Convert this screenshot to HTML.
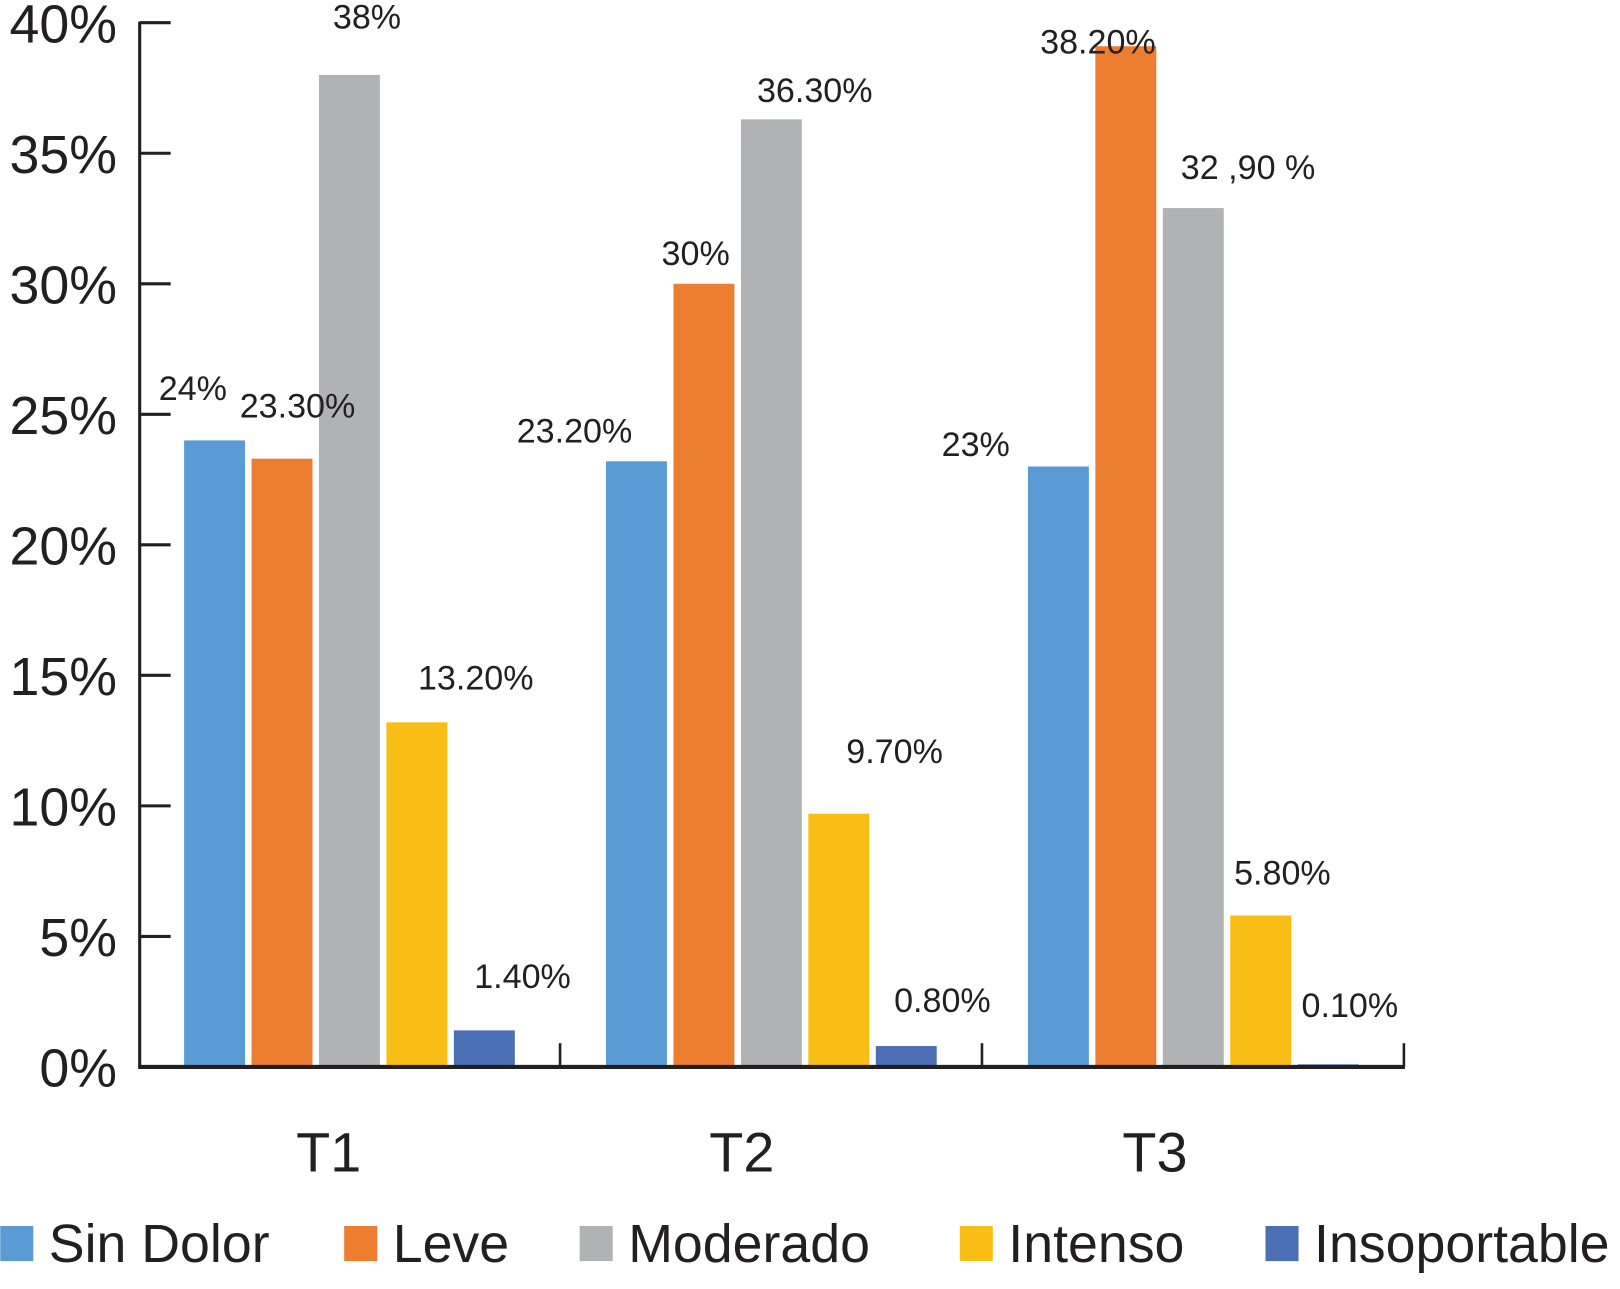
<!DOCTYPE html>
<html><head><meta charset="utf-8"><style>
html,body{margin:0;padding:0;background:#fff;}
svg{display:block;font-family:"Liberation Sans",sans-serif;}
</style></head><body>
<svg id="chart" width="1620" height="1289" viewBox="0 0 1568 1248" xmlns="http://www.w3.org/2000/svg"></svg>
<script>
const groups = ["T1","T2","T3"];
const seriesNames = ["Sin Dolor","Leve","Moderado","Intenso","Insoportable"];
const sinDolor = [24, 23.2, 23];
const leve = [23.3, 30, 39.1];
const moderado = [38, 36.3, 32.9];
const intenso = [13.2, 9.7, 5.8];
const insoportable = [1.4, 0.8, 0.1];
const valueLabels = [
  ["24%","23.20%","23%"],
  ["23.30%","30%","38.20%"],
  ["38%","36.30%","32 ,90 %"],
  ["13.20%","9.70%","5.80%"],
  ["1.40%","0.80%","0.10%"]
];
const yTicks = [0,5,10,15,20,25,30,35,40];
const yTickLabels = ["0%","5%","10%","15%","20%","25%","30%","35%","40%"];

const colors = ["#5b9bd5","#ed7d31","#b1b2b4","#f9be16","#4a6fb5"];
const labelDx = [[-21,-60,-80],[15,-8,-27],[17,42,53],[57,54,21],[37,35,21]];
const labelDy = [[-50,-29,-21],[-51,-29,-4],[-56,-28,-39],[-43,-60,-41],[-52,-44,-57]];
const series = [sinDolor, leve, moderado, intenso, insoportable];

const NS = "http://www.w3.org/2000/svg";
const svg = document.getElementById("chart");
function el(tag, attrs, parent){ const e=document.createElementNS(NS,tag); for(const k in attrs) e.setAttribute(k,attrs[k]); (parent||svg).appendChild(e); return e; }

const axisX = 135, y0 = 1033, y40 = 22;
function yScale(v){ return y0 - (v/40)*(y0-y40); }
const groupStart = 178, groupStep = 408.5, barStep = 65.3, barW = 59;
function xBar(g,s){ return groupStart + g*groupStep + s*barStep; }

// bars
series.forEach((vals,s)=>{
  vals.forEach((v,g)=>{
    const r = el("rect",{x:xBar(g,s),y:yScale(v),width:barW,height:y0-yScale(v),fill:colors[s]});
    
    
  });
});
// value labels (on top of bars)
series.forEach((vals,s)=>{
  vals.forEach((v,g)=>{
    const t = el("text",{x:xBar(g,s)+barW/2+labelDx[s][g],y:yScale(v)+labelDy[s][g]+11,"font-size":33,"text-anchor":"middle",fill:"#231f20"});
    t.textContent = valueLabels[s][g];
    
    
  });
});

// axes
const ax = el("line",{x1:axisX,y1:y40-1,x2:axisX,y2:y0+2,stroke:"#231f20","stroke-width":3});


const bx = el("line",{x1:axisX,y1:y0,x2:1360,y2:y0,stroke:"#231f20","stroke-width":4});


yTicks.forEach((v,i)=>{
  const tk = el("line",{x1:axisX,y1:yScale(v),x2:165,y2:yScale(v),stroke:"#231f20","stroke-width":3});
  
  
  const tl = el("text",{x:113,y:yScale(v)+19,"font-size":52,"text-anchor":"end",fill:"#231f20"});
  tl.textContent = yTickLabels[i];
  
  
});
groups.forEach((g,i)=>{
  const xs = groupStart - 44.5 + (i+1)*groupStep;
  const tk = el("line",{x1:xs,y1:1010,x2:xs,y2:y0,stroke:"#231f20","stroke-width":2.5});
  
  
  const tl = el("text",{x:318 + i*400,y:1134,"font-size":54,"text-anchor":"middle",fill:"#231f20"});
  tl.textContent = g;
  
  
});

// legend
const legSq = [0,333,561,929,1225];
seriesNames.forEach((n,i)=>{
  const sq = el("rect",{x:legSq[i],y:1187,width:32,height:34,fill:colors[i]});
  
  
  const t = el("text",{x:legSq[i]+47,y:1222,"font-size":52,fill:"#231f20"});
  t.textContent = n;
  
  
});
</script>
</body></html>
